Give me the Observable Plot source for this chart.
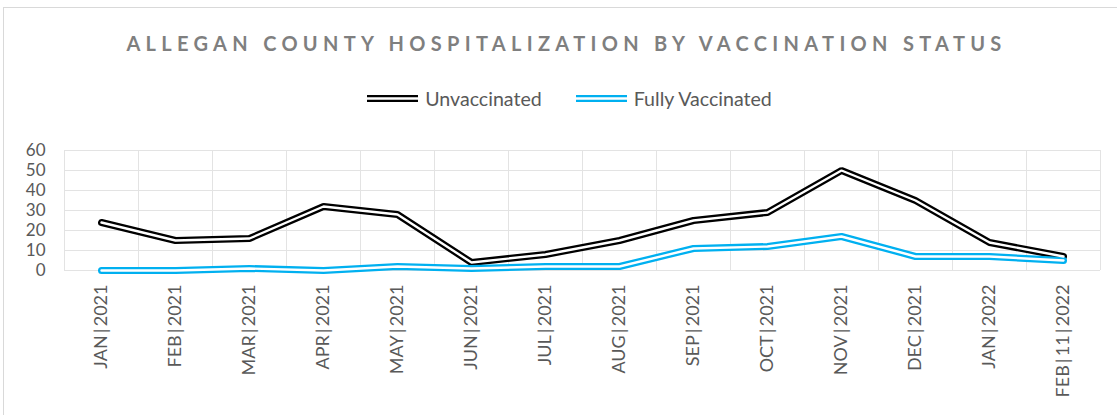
<!DOCTYPE html>
<html>
<head>
<meta charset="utf-8">
<script src="https://cdn.jsdelivr.net/npm/d3@7"></script>
<script src="https://cdn.jsdelivr.net/npm/@observablehq/plot@0.6"></script>
<style>
  html, body { margin: 0; padding: 0; background: #fff; }
  #wrap { position: relative; width: 1117px; height: 415px; overflow: hidden; font-family: Lato, "Open Sans", sans-serif; }
  #frame { position: absolute; left: 3px; top: 7px; width: 1130px; height: 430px; border: 1px solid #d9d9d9; box-sizing: border-box; }
  #title { position: absolute; left: 8px; width: 1117px; top: 31px; text-align: center; font-size: 20px; font-weight: bold; letter-spacing: 5.3px; color: #7f7f7f; }
  #legend { position: absolute; left: 11px; width: 1117px; top: 87px; display: flex; justify-content: center; align-items: center; font-size: 19.6px; color: #595959; }
  #legend .item { display: flex; align-items: center; margin: 0 17px; }
  #legend svg { margin-right: 7px; }
  #chart { position: absolute; left: 0; top: 0; }
</style>
</head>
<body>
<div id="wrap">
  <div id="frame"></div>
  <div id="chart"></div>
  <div id="title">ALLEGAN COUNTY HOSPITALIZATION BY VACCINATION STATUS</div>
  <div id="legend"></div>
</div>
<script>
const months = ["JAN\u2009|\u20092021","FEB\u2009|\u20092021","MAR\u2009|\u20092021","APR\u2009|\u20092021","MAY\u2009|\u20092021","JUN\u2009|\u20092021","JUL\u2009|\u20092021","AUG\u2009|\u20092021","SEP\u2009|\u20092021","OCT\u2009|\u20092021","NOV\u2009|\u20092021","DEC\u2009|\u20092021","JAN\u2009|\u20092022","FEB\u2009|\u200911\u2009|\u20092022"];
const unvaccinated = [24, 15, 16, 32, 28, 4, 8, 15, 25, 29, 50, 35, 14, 7];
const fullyVaccinated = [0, 0, 1, 0, 2, 1, 2, 2, 11, 12, 17, 7, 7, 5];
const seriesNames = ["Unvaccinated", "Fully Vaccinated"];
const seriesColors = ["#000000", "#00b0f0"];
const yTicks = [0, 10, 20, 30, 40, 50, 60];

const data = [];
months.forEach((m, i) => {
  data.push({i, month: m, series: seriesNames[0], value: unvaccinated[i]});
  data.push({i, month: m, series: seriesNames[1], value: fullyVaccinated[i]});
});
const bounds = d3.range(months.length + 1).map(k => k - 0.5);

const chart = Plot.plot({
  width: 1117,
  height: 415,
  marginLeft: 64,
  marginRight: 17,
  marginTop: 150,
  marginBottom: 145,
  x: {type: "linear", domain: [-0.5, months.length - 0.5]},
  y: {domain: [0, 60]},
  color: {domain: seriesNames, range: seriesColors},
  style: {fontFamily: "Lato, 'Open Sans', sans-serif", background: "transparent"},
  marks: [
    Plot.ruleY(yTicks, {stroke: "#e3e3e3", strokeWidth: 1}),
    Plot.ruleX(bounds, {stroke: "#e3e3e3", strokeWidth: 1}),
    Plot.axisY({ticks: yTicks, tickSize: 0, tickPadding: 19, fontSize: 17, fill: "#595959", label: null}),
    Plot.axisX({ticks: d3.range(months.length), tickFormat: i => months[i], tickSize: 0, tickPadding: 14, tickRotate: -90, fontSize: 18, fill: "#595959", label: null}),
    Plot.line(data, {x: "i", y: "value", z: "series", stroke: "series", strokeWidth: 7, strokeLinejoin: "miter"}),
    Plot.line(data, {x: "i", y: "value", z: "series", stroke: "#ffffff", strokeWidth: 2.4, strokeLinejoin: "miter"})
  ]
});
document.getElementById("chart").appendChild(chart);

const legend = document.getElementById("legend");
seriesNames.forEach((name, k) => {
  const item = document.createElement("div");
  item.className = "item";
  item.innerHTML = `<svg width="51" height="9"><line x1="0" x2="51" y1="4.5" y2="4.5" stroke="${seriesColors[k]}" stroke-width="7"/><line x1="0" x2="51" y1="4.5" y2="4.5" stroke="#fff" stroke-width="2.4"/></svg><span>${name}</span>`;
  legend.appendChild(item);
});
</script>
</body>
</html>
